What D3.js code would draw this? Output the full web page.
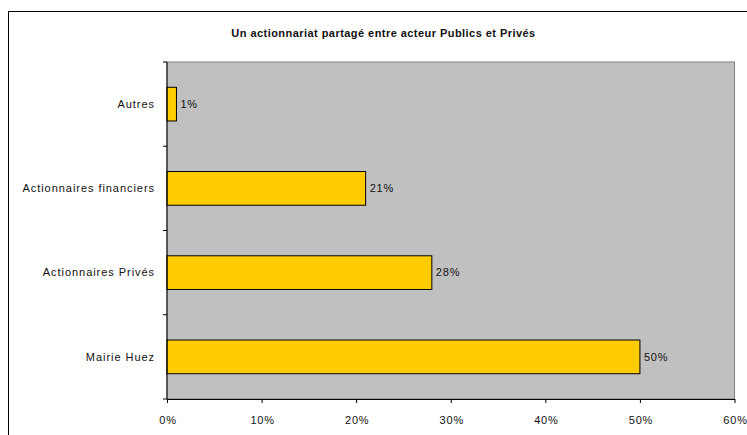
<!DOCTYPE html>
<html><head><meta charset="utf-8">
<script src="https://cdn.jsdelivr.net/npm/d3@7"></script>
<style>body{margin:0;background:#fff}svg{display:block}text{font-family:"Liberation Sans",Arial,sans-serif;fill:#111}</style>
</head><body>
<script>
const categories = ["Autres", "Actionnaires financiers", "Actionnaires Privés", "Mairie Huez"];
const values = [1, 21, 28, 50];
const xTicks = [0, 10, 20, 30, 40, 50, 60];
const title = "Un actionnariat partagé entre acteur Publics et Privés";

const W = 747, H = 435;
const svg = d3.select("body").append("svg").attr("width", W).attr("height", H);
svg.append("rect").attr("x", 8.5).attr("y", 11.5).attr("width", 760).attr("height", 440)
  .attr("fill", "#fff").attr("stroke", "#000").attr("stroke-width", 1);

const L = 167, R = 734.5, T = 62, B = 399;
const x = d3.scaleLinear().domain([0, 60]).range([L, R]);
const y = d3.scaleBand().domain(categories).range([T, B]).paddingInner(0.6).paddingOuter(0.3);
const yb = d3.scaleBand().domain(categories).range([T, B]);

svg.append("rect").attr("x", L).attr("y", T).attr("width", R - L).attr("height", B - T)
  .attr("fill", "#C0C0C0").attr("stroke", "#808080").attr("stroke-width", 1);

svg.append("text").attr("x", 383.5).attr("y", 37).attr("text-anchor", "middle")
  .attr("font-size", 11).attr("font-weight", "bold").attr("letter-spacing", 0.45).text(title);

svg.selectAll("rect.bar").data(values).join("rect").attr("class", "bar")
  .attr("x", x(0)).attr("y", (d, i) => y(categories[i]))
  .attr("width", d => x(d) - x(0)).attr("height", y.bandwidth())
  .attr("fill", "#FFCC00").attr("stroke", "#000").attr("stroke-width", 1);

svg.selectAll("text.val").data(values).join("text").attr("class", "val")
  .attr("x", d => x(d) + 4).attr("y", (d, i) => y(categories[i]) + y.bandwidth() / 2)
  .attr("dy", "0.35em").attr("font-size", 11).attr("letter-spacing", 0.8).text(d => d + "%");

// axes
const xAxis = d3.axisBottom(x).tickValues(xTicks).tickFormat(d => d + "%").tickSize(4).tickSizeOuter(0);
const gx = svg.append("g").attr("transform", `translate(0,${B})`).call(xAxis);
gx.select(".domain").attr("stroke", "#000");
gx.selectAll(".tick line").attr("stroke", "#000");
gx.selectAll("text").attr("font-size", 11).attr("letter-spacing", 0.8).attr("y", 0).attr("dy", 0)
  .attr("transform", "translate(0.5,25)").attr("fill", "#111");

const gy = svg.append("g").attr("transform", `translate(${L},0)`);
gy.append("line").attr("x1", 0).attr("x2", 0).attr("y1", T).attr("y2", B).attr("stroke", "#000");
const bounds = categories.map(c => yb(c)).concat([B]);
gy.selectAll("line.t").data(bounds).join("line").attr("class", "t")
  .attr("x1", -4).attr("x2", 0).attr("y1", d => d).attr("y2", d => d).attr("stroke", "#000");
gy.selectAll("text").data(categories).join("text")
  .attr("x", -12).attr("y", d => yb(d) + yb.bandwidth() / 2).attr("dy", "0.35em")
  .attr("text-anchor", "end").attr("font-size", 11).attr("letter-spacing", 0.95).text(d => d);
</script>
</body></html>
